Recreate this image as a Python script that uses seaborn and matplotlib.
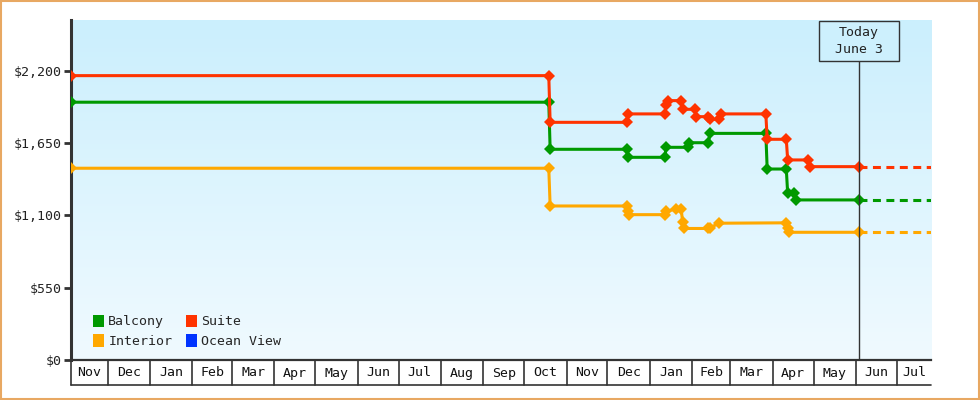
"""
Cabin price history chart -- step-like price lines with a "Today" marker.
Saves out.png (980x400).
"""
import numpy as np
import pandas as pd
import matplotlib
matplotlib.use("Agg")
import matplotlib.pyplot as plt
import matplotlib.dates as mdates
from matplotlib.patches import Rectangle, Patch
from matplotlib.transforms import blended_transform_factory
import seaborn as sns

# ── data ────────────────────────────────────────────────────────────────
BALCONY_DATES = [
    "2023-11-04", "2024-10-19", "2024-10-20", "2024-12-15", "2024-12-16",
    "2025-01-12", "2025-01-13", "2025-01-29", "2025-01-30", "2025-02-13",
    "2025-02-14", "2025-03-27", "2025-03-28", "2025-04-11", "2025-04-12",
    "2025-04-17", "2025-04-18", "2025-06-03",
]
BALCONY_PRICES = [
    1960, 1960, 1602, 1602, 1541,
    1541, 1617, 1617, 1652, 1652,
    1723, 1723, 1452, 1452, 1268,
    1268, 1217, 1217,
]

SUITE_DATES = [
    "2023-11-04", "2024-10-19", "2024-10-20", "2024-12-15", "2024-12-16",
    "2025-01-12", "2025-01-13", "2025-01-14", "2025-01-24", "2025-01-25",
    "2025-02-03", "2025-02-04", "2025-02-13", "2025-02-14", "2025-02-21",
    "2025-02-22", "2025-03-27", "2025-03-28", "2025-04-11", "2025-04-12",
    "2025-04-27", "2025-04-28", "2025-06-03",
]
SUITE_PRICES = [
    2162, 2162, 1807, 1807, 1871,
    1871, 1939, 1972, 1972, 1906,
    1906, 1850, 1850, 1830, 1830,
    1871, 1871, 1678, 1678, 1521,
    1521, 1470, 1470,
]

INTERIOR_DATES = [
    "2023-11-04", "2024-10-19", "2024-10-20", "2024-12-15", "2024-12-16",
    "2024-12-17", "2025-01-12", "2025-01-13", "2025-01-20", "2025-01-24",
    "2025-01-25", "2025-01-26", "2025-02-13", "2025-02-14", "2025-02-21",
    "2025-04-11", "2025-04-12", "2025-04-13", "2025-06-03",
]
INTERIOR_PRICES = [
    1458, 1458, 1171, 1171, 1131,
    1105, 1105, 1130, 1148, 1148,
    1052, 1000, 1000, 1006, 1040,
    1043, 1000, 971, 971,
]

CABINS = ["Balcony", "Interior", "Suite", "Ocean View"]
COLORS = {"Balcony": "#009900", "Suite": "#ff3300",
          "Interior": "#ffa800", "Ocean View": "#0033ff"}

Y_TICKS = [0, 550, 1100, 1650, 2200]
Y_LABELS = ["$0", "$550", "$1,100", "$1,650", "$2,200"]
MONTHS = ["Nov", "Dec", "Jan", "Feb", "Mar", "Apr", "May", "Jun", "Jul", "Aug",
          "Sep", "Oct", "Nov", "Dec", "Jan", "Feb", "Mar", "Apr", "May", "Jun", "Jul"]

X_START = pd.Timestamp("2023-11-04")
X_END = pd.Timestamp("2025-07-26")
TODAY = pd.Timestamp("2025-06-03")
TODAY_TEXT = "Today\nJune 3"

INK = "#333333"


def build_frame():
    parts = []
    for name, d, p in [("Balcony", BALCONY_DATES, BALCONY_PRICES),
                       ("Suite", SUITE_DATES, SUITE_PRICES),
                       ("Interior", INTERIOR_DATES, INTERIOR_PRICES)]:
        parts.append(pd.DataFrame({"date": pd.to_datetime(d), "price": p, "cabin": name}))
    return pd.concat(parts, ignore_index=True)


def main():
    df = build_frame()

    sns.set_style("white")
    plt.rcParams["font.family"] = ["DejaVu Sans Mono"]

    fig = plt.figure(figsize=(9.8, 4.0), dpi=100)
    ax = fig.add_axes([71 / 980, 40 / 400, 860 / 980, 340 / 400])

    # gradient background
    grad = np.linspace(0, 1, 256).reshape(-1, 1)
    top = np.array([203, 239, 253]) / 255
    bot = np.array([240, 250, 255]) / 255
    img = top[None, None, :] * (1 - grad[:, :, None]) + bot[None, None, :] * grad[:, :, None]
    ax.imshow(img, extent=[0, 1, 0, 1], transform=ax.transAxes, aspect="auto", zorder=0)

    # price lines
    sns.lineplot(data=df, x="date", y="price", hue="cabin", palette=COLORS,
                 estimator=None, sort=False, units="cabin", legend=False,
                 marker="D", markersize=6, markeredgewidth=0, linewidth=2.2,
                 ax=ax, zorder=3)

    # dashed projection after today
    for name in ["Suite", "Balcony", "Interior"]:
        last = df[df["cabin"] == name]["price"].iloc[-1]
        ax.plot([TODAY, X_END], [last, last], color=COLORS[name], lw=2.2,
                ls=(0, (2.6, 1.8)), zorder=2)

    ax.set_xlim(X_START, X_END)
    ax.set_ylim(0, 2585)
    ax.set_xlabel("")
    ax.set_ylabel("")

    # y axis
    ax.set_yticks(Y_TICKS)
    ax.set_yticklabels(Y_LABELS, fontsize=9.5, color="#222222")
    ax.tick_params(axis="y", direction="out", length=5, width=2, color=INK, pad=2, left=True)
    for s in ["top", "right"]:
        ax.spines[s].set_visible(False)
    ax.spines["left"].set_color(INK)
    ax.spines["left"].set_linewidth(2.2)
    ax.spines["bottom"].set_color(INK)
    ax.spines["bottom"].set_linewidth(1.6)
    ax.set_xticks([])

    # month cells below the axis
    bt = blended_transform_factory(ax.transData, ax.transAxes)
    bounds = list(pd.date_range("2023-12-01", "2025-07-01", freq="MS"))
    edges = [X_START] + bounds + [X_END]
    cell_h = -25 / 340
    for b in bounds:
        ax.plot([b, b], [0, cell_h], transform=bt, color=INK, lw=1.2, clip_on=False)
    ax.plot([X_START, X_START], [0, cell_h], transform=bt, color=INK, lw=1.2, clip_on=False)
    ax.plot([X_START, X_END], [cell_h, cell_h], transform=bt, color=INK, lw=1.2, clip_on=False)
    for lab, a, b in zip(MONTHS, edges[:-1], edges[1:]):
        mid = a + (b - a) / 2
        ax.text(mid, -13 / 340, lab, transform=bt, ha="center", va="center",
                fontsize=9.5, color="#111111")

    # today marker
    ax.plot([TODAY, TODAY], [0, 0.8794], transform=bt, color=INK, lw=1, zorder=4)
    half = pd.Timedelta(days=29.3)
    ax.add_patch(Rectangle((mdates.date2num(TODAY - half), 0.8794), 58.6, 0.1176,
                           transform=bt, facecolor="#cdf0fd", edgecolor=INK,
                           lw=1, zorder=5, clip_on=False))
    ax.text(TODAY, 0.938, TODAY_TEXT, transform=bt, ha="center", va="center",
            fontsize=9.5, color="#222222", linespacing=1.35, zorder=6)

    # legend
    handles = [Patch(facecolor=COLORS[c], edgecolor="none", label=c) for c in CABINS]
    ax.legend(handles=handles, ncol=2, loc="lower left", bbox_to_anchor=(0.012, 0.0),
              frameon=False, fontsize=9.5, handlelength=0.85, handleheight=1.1,
              handletextpad=0.3, columnspacing=1.0, labelspacing=0.45)

    # orange frame round the picture
    fig.patches.append(Rectangle((0.001, 0.002), 0.998, 0.996, transform=fig.transFigure,
                                 fill=False, edgecolor="#e8a862", lw=1.5))

    fig.savefig("out.png", dpi=100, facecolor="white")
    plt.close(fig)


if __name__ == "__main__":
    main()
